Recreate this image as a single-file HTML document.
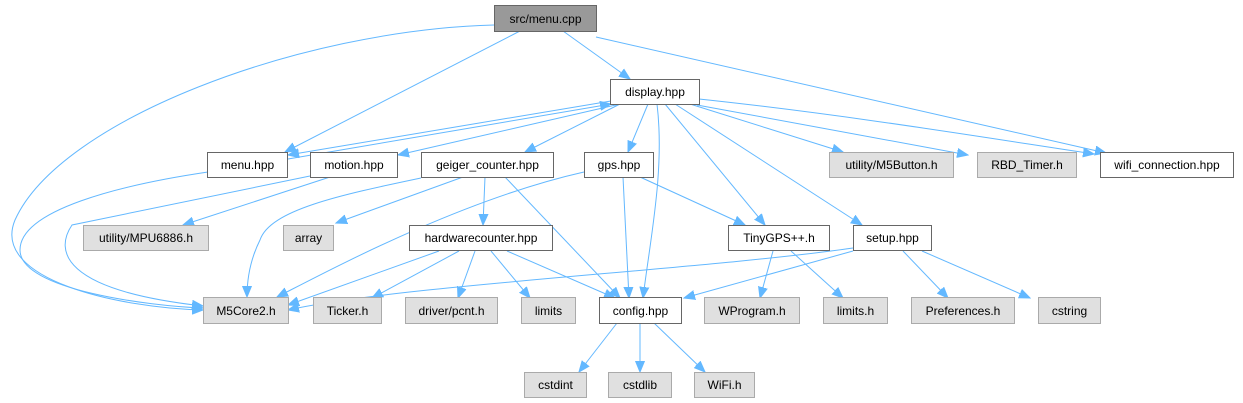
<!DOCTYPE html>
<html><head><meta charset="utf-8"><style>
html,body{margin:0;padding:0;background:#fff;}
svg{display:block;}
text{font-family:"Liberation Sans",Arial,sans-serif;font-size:12px;fill:#000;}
.w{fill:#fff;stroke:#666;stroke-width:1;}
.g{fill:#e0e0e0;stroke:#aaa;stroke-width:1;}
.d{fill:#999;stroke:#666;stroke-width:1;}
path.e{fill:none;stroke:#63b8ff;stroke-width:1;marker-end:url(#a);}
</style></head><body>
<svg width="1243" height="403" viewBox="0 0 1243 403" xmlns="http://www.w3.org/2000/svg">
<defs><marker id="a" markerUnits="userSpaceOnUse" markerWidth="12" markerHeight="10" refX="11" refY="5" orient="auto"><path d="M0,0.5 L11,5 L0,9.5 z" fill="#63b8ff" stroke="#63b8ff"/></marker></defs>

<!-- edges -->
<path class="e" d="M563,31 L630,79"/>
<path class="e" d="M520,31 L285,152"/>
<path class="e" d="M596,37 L1106,153"/>
<path class="e" d="M494,25 C300,30 60,120 15,220 C-10,280 120,308 203,310"/>
<path class="e" d="M208,172 C120,185 20,210 20,250 C20,290 150,306 203,308"/>
<path class="e" d="M310,176 L72,225 C55,250 60,290 203,306"/>
<path class="e" d="M611,101 L288,155"/>
<path class="e" d="M288,159 L611,104"/>
<path class="e" d="M620,104 L398,155"/>
<path class="e" d="M620,104 L525,152"/>
<path class="e" d="M648,104 L628,152"/>
<path class="e" d="M657,104 C665,170 650,240 643,298"/>
<path class="e" d="M665,104 L765,225"/>
<path class="e" d="M675,104 L862,225"/>
<path class="e" d="M690,104 L843,152"/>
<path class="e" d="M697,105 L968,155"/>
<path class="e" d="M699,99 C850,115 1000,140 1094,154"/>
<path class="e" d="M330,177 L183,225"/>
<path class="e" d="M421,178 C340,195 270,210 260,240 C250,260 247,280 247,297"/>
<path class="e" d="M463,177 L336,223"/>
<path class="e" d="M485,177 L483,225"/>
<path class="e" d="M505,177 L620,298"/>
<path class="e" d="M584,172 C460,200 330,270 277,297"/>
<path class="e" d="M623,177 L629,298"/>
<path class="e" d="M640,177 L745,225"/>
<path class="e" d="M439,251 L288,305"/>
<path class="e" d="M459,251 L372,298"/>
<path class="e" d="M475,251 L458,298"/>
<path class="e" d="M491,251 L530,298"/>
<path class="e" d="M507,251 L615,298"/>
<path class="e" d="M853,248 C700,270 400,285 288,310"/>
<path class="e" d="M853,251 L684,298"/>
<path class="e" d="M773,251 L760,298"/>
<path class="e" d="M791,251 L843,298"/>
<path class="e" d="M903,251 L948,298"/>
<path class="e" d="M922,251 L1030,298"/>
<path class="e" d="M617,323 L579,372"/>
<path class="e" d="M640,323 L640,372"/>
<path class="e" d="M654,323 L705,372"/>

<!-- nodes -->
<rect class="d" x="494.5" y="5.5" width="102" height="26"/><text x="545.5" y="23" text-anchor="middle">src/menu.cpp</text>
<rect class="w" x="610.5" y="79.5" width="89" height="25"/><text x="655" y="96" text-anchor="middle">display.hpp</text>
<rect class="w" x="207.5" y="152.5" width="80" height="25"/><text x="247.5" y="169" text-anchor="middle">menu.hpp</text>
<rect class="w" x="310.5" y="152.5" width="87" height="25"/><text x="354" y="169" text-anchor="middle">motion.hpp</text>
<rect class="w" x="421.5" y="152.5" width="132" height="25"/><text x="487.5" y="169" text-anchor="middle">geiger_counter.hpp</text>
<rect class="w" x="584.5" y="152.5" width="69" height="25"/><text x="619" y="169" text-anchor="middle">gps.hpp</text>
<rect class="g" x="829.5" y="152.5" width="124" height="25"/><text x="891.5" y="169" text-anchor="middle">utility/M5Button.h</text>
<rect class="g" x="977.5" y="152.5" width="99" height="25"/><text x="1027" y="169" text-anchor="middle">RBD_Timer.h</text>
<rect class="w" x="1100.5" y="152.5" width="133" height="25"/><text x="1167" y="169" text-anchor="middle">wifi_connection.hpp</text>
<rect class="g" x="83.5" y="225.5" width="125" height="25"/><text x="146" y="242" text-anchor="middle">utility/MPU6886.h</text>
<rect class="g" x="283.5" y="225.5" width="50" height="25"/><text x="308.5" y="242" text-anchor="middle">array</text>
<rect class="w" x="409.5" y="225.5" width="143" height="25"/><text x="481" y="242" text-anchor="middle">hardwarecounter.hpp</text>
<rect class="w" x="728.5" y="225.5" width="101" height="25"/><text x="779" y="242" text-anchor="middle">TinyGPS++.h</text>
<rect class="w" x="853.5" y="225.5" width="78" height="25"/><text x="892.5" y="242" text-anchor="middle">setup.hpp</text>
<rect class="g" x="203.5" y="297.5" width="85" height="26"/><text x="246" y="315" text-anchor="middle">M5Core2.h</text>
<rect class="g" x="313.5" y="297.5" width="68" height="26"/><text x="347.5" y="315" text-anchor="middle">Ticker.h</text>
<rect class="g" x="405.5" y="297.5" width="92" height="26"/><text x="451.5" y="315" text-anchor="middle">driver/pcnt.h</text>
<rect class="g" x="521.5" y="297.5" width="54" height="26"/><text x="548.5" y="315" text-anchor="middle">limits</text>
<rect class="w" x="599.5" y="297.5" width="82" height="26"/><text x="640.5" y="315" text-anchor="middle">config.hpp</text>
<rect class="g" x="704.5" y="297.5" width="95" height="26"/><text x="752" y="315" text-anchor="middle">WProgram.h</text>
<rect class="g" x="823.5" y="297.5" width="64" height="26"/><text x="855.5" y="315" text-anchor="middle">limits.h</text>
<rect class="g" x="911.5" y="297.5" width="103" height="26"/><text x="963" y="315" text-anchor="middle">Preferences.h</text>
<rect class="g" x="1038.5" y="297.5" width="62" height="26"/><text x="1069.5" y="315" text-anchor="middle">cstring</text>
<rect class="g" x="524.5" y="372.5" width="62" height="25"/><text x="555.5" y="389" text-anchor="middle">cstdint</text>
<rect class="g" x="608.5" y="372.5" width="63" height="25"/><text x="640" y="389" text-anchor="middle">cstdlib</text>
<rect class="g" x="694.5" y="372.5" width="60" height="25"/><text x="724.5" y="389" text-anchor="middle">WiFi.h</text>
</svg>
</body></html>
